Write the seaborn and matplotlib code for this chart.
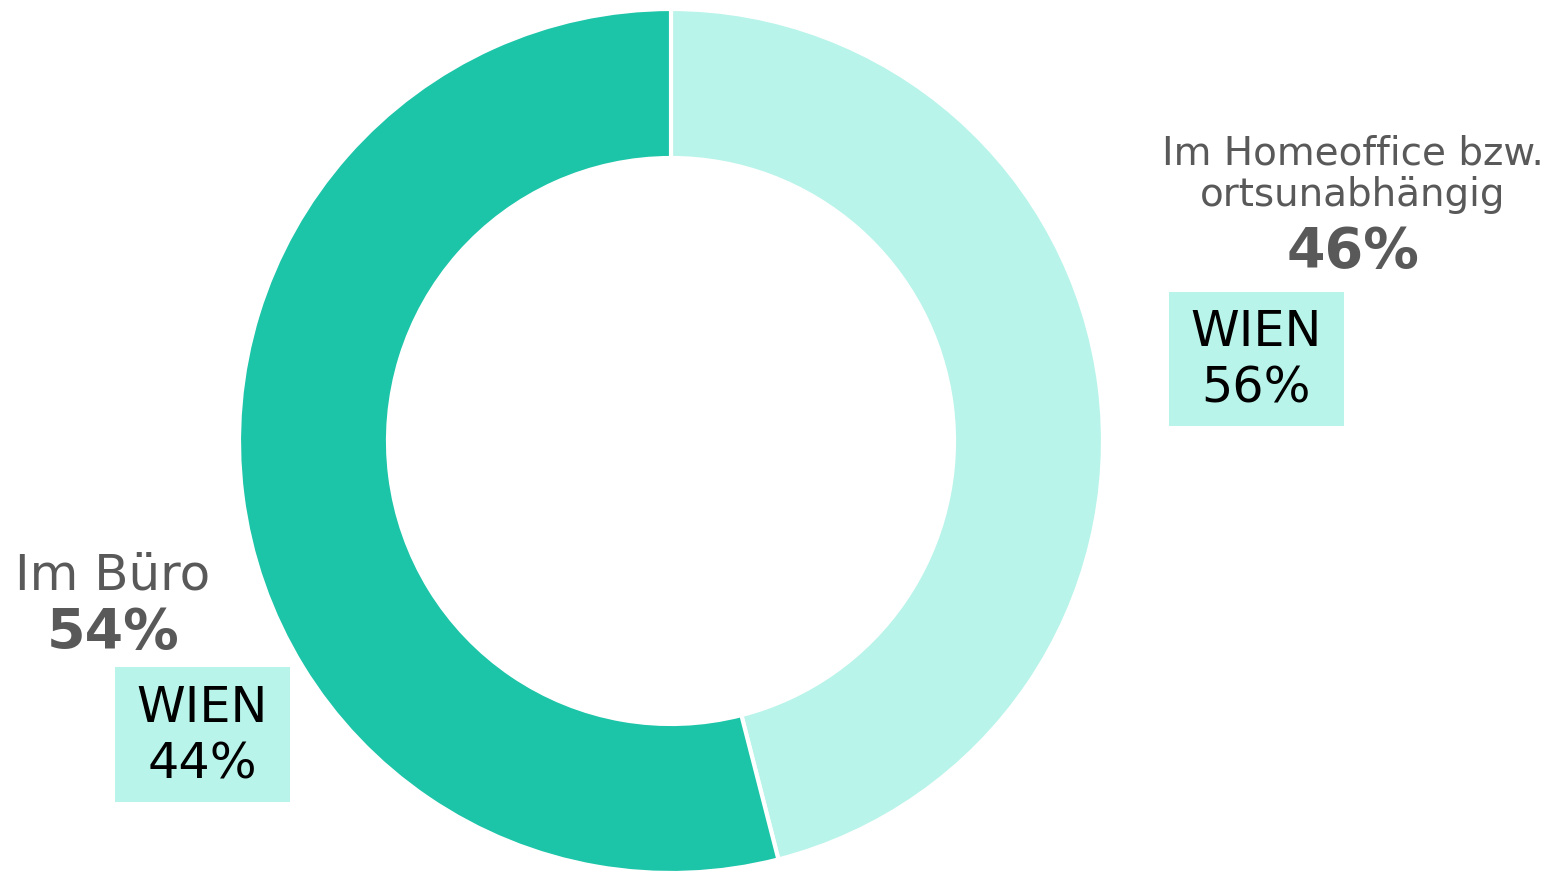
import matplotlib
matplotlib.use("Agg")
import matplotlib.pyplot as plt
from matplotlib.patches import Rectangle
import seaborn as sns

# data
labels = ["Im Homeoffice bzw.\nortsunabhängig", "Im Büro"]
shares = [46, 54]
wien = [56, 44]
colors = ["#b8f4ea", "#1cc4a8"]

sns.set_theme(style="white")
plt.rcParams['font.family'] = ['DejaVu Sans']

W, H = 1552, 871
fig = plt.figure(figsize=(W / 100, H / 100), dpi=100)
ax = fig.add_axes([0, 0, 1, 1])

cx, cy, R = 671, H - 441, 432
ax.pie(shares, colors=colors, startangle=90, counterclock=False,
       center=(cx, cy), radius=R,
       wedgeprops=dict(width=R - 283, edgecolor="white", linewidth=3))
ax.set_xlim(0, W)
ax.set_ylim(0, H)
ax.set_aspect("equal")
ax.axis("off")

grey = "#595959"
box_w, box_h = 175, 135

# Homeoffice label (right)
ax.text(1353, H - 174, labels[0], ha="center", va="center", fontsize=28,
        color=grey, linespacing=1.1)
ax.text(1353, H - 252, f"{shares[0]}%", ha="center", va="center", fontsize=40,
        color=grey, fontweight="bold")
ax.add_patch(Rectangle((1256 - box_w / 2, H - 359 - box_h / 2), box_w, box_h,
                       facecolor="#b8f4ea", edgecolor="none"))
ax.text(1256, H - 360, f"WIEN\n{wien[0]}%", ha="center", va="center",
        fontsize=35.5, color="black", linespacing=1.22)

# Büro label (left)
ax.text(113, H - 576, labels[1], ha="center", va="center", fontsize=36,
        color=grey)
ax.text(113, H - 633, f"{shares[1]}%", ha="center", va="center", fontsize=40,
        color=grey, fontweight="bold")
ax.add_patch(Rectangle((202.5 - box_w / 2, H - 735 - box_h / 2), box_w, box_h,
                       facecolor="#b8f4ea", edgecolor="none"))
ax.text(202, H - 736, f"WIEN\n{wien[1]}%", ha="center", va="center",
        fontsize=35.5, color="black", linespacing=1.22)

fig.savefig("out.png", dpi=100)
